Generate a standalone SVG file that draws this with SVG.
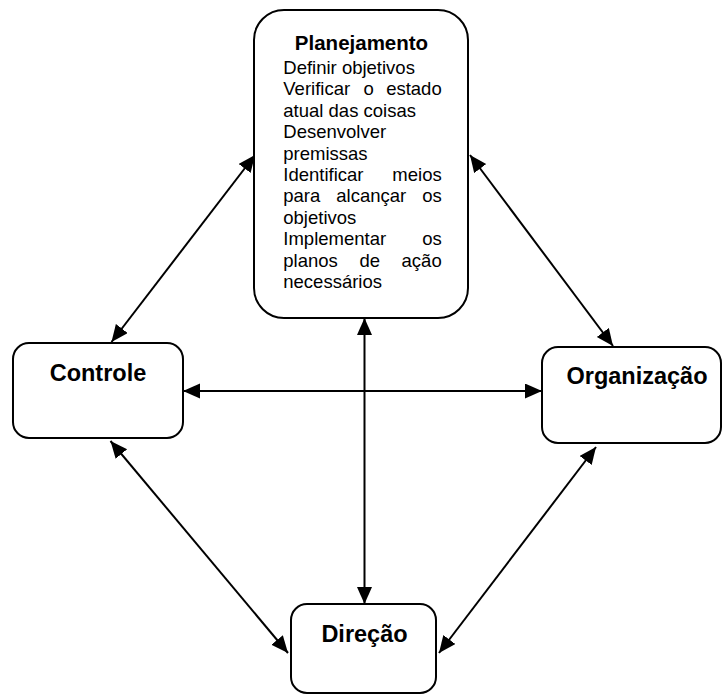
<svg xmlns="http://www.w3.org/2000/svg" width="723" height="695" viewBox="0 0 723 695">
  <style>
    .box { fill: #ffffff; stroke: #000000; stroke-width: 2; }
    .link { stroke: #000000; stroke-width: 2; fill: none; marker-start: url(#head); marker-end: url(#head); }
    .title { font-family: "Liberation Sans", Arial, sans-serif; font-weight: bold; fill: #000000; text-anchor: middle; }
    .body { font-family: "Liberation Sans", Arial, sans-serif; font-size: 18.5px; fill: #000000; }
    .end { text-anchor: end; }
  </style>
  <defs>
    <marker id="head" markerUnits="userSpaceOnUse" markerWidth="18" markerHeight="16" refX="17" refY="7.5" orient="auto-start-reverse">
      <path d="M0,0 L17,7.5 L0,15 z" fill="#000000"/>
    </marker>
  </defs>
  <rect width="723" height="695" fill="#ffffff"/>

  <!-- two-way links between the four functions -->
  <g id="connectors">
    <line class="link" x1="111.5" y1="342" x2="255" y2="155"/>
    <line class="link" x1="470" y1="155" x2="613" y2="346"/>
    <line class="link" x1="183" y1="391" x2="542" y2="391"/>
    <line class="link" x1="364.5" y1="318" x2="364.5" y2="604"/>
    <line class="link" x1="110.5" y1="441" x2="288" y2="653"/>
    <line class="link" x1="596" y1="447" x2="439" y2="653"/>
  </g>

  <g id="planejamento">
    <rect class="box" x="254" y="10" width="214" height="308" rx="30" ry="30"/>
    <text class="title" x="361.5" y="50" font-size="20.5">Planejamento</text>
    <text class="body" x="283.3" y="74">Definir objetivos</text>
    <text class="body" y="95.4"><tspan x="283.3">Verificar</tspan><tspan x="363.5">o</tspan><tspan x="441.7" class="end">estado</tspan></text>
    <text class="body" x="283.3" y="116.8">atual das coisas</text>
    <text class="body" x="283.3" y="138.2">Desenvolver</text>
    <text class="body" x="283.3" y="159.6">premissas</text>
    <text class="body" y="181"><tspan x="283.3">Identificar</tspan><tspan x="441.7" class="end">meios</tspan></text>
    <text class="body" y="202.4"><tspan x="283.3">para</tspan><tspan x="336.3">alcançar</tspan><tspan x="441.7" class="end">os</tspan></text>
    <text class="body" x="283.3" y="223.8">objetivos</text>
    <text class="body" y="245.2"><tspan x="283.3">Implementar</tspan><tspan x="441.7" class="end">os</tspan></text>
    <text class="body" y="266.6"><tspan x="283.3">planos</tspan><tspan x="359.4">de</tspan><tspan x="441.7" class="end">ação</tspan></text>
    <text class="body" x="283.3" y="288">necessários</text>
  </g>

  <g id="controle">
    <rect class="box" x="13" y="343" width="170" height="95" rx="16" ry="16"/>
    <text class="title" x="98" y="381" font-size="23.5">Controle</text>
  </g>

  <g id="organizacao">
    <rect class="box" x="542" y="347" width="179" height="96" rx="16" ry="16"/>
    <text class="title" x="637" y="384" font-size="23.5">Organização</text>
  </g>

  <g id="direcao">
    <rect class="box" x="291" y="604" width="145" height="89" rx="16" ry="16"/>
    <text class="title" x="364.5" y="642" font-size="23.5">Direção</text>
  </g>
</svg>
